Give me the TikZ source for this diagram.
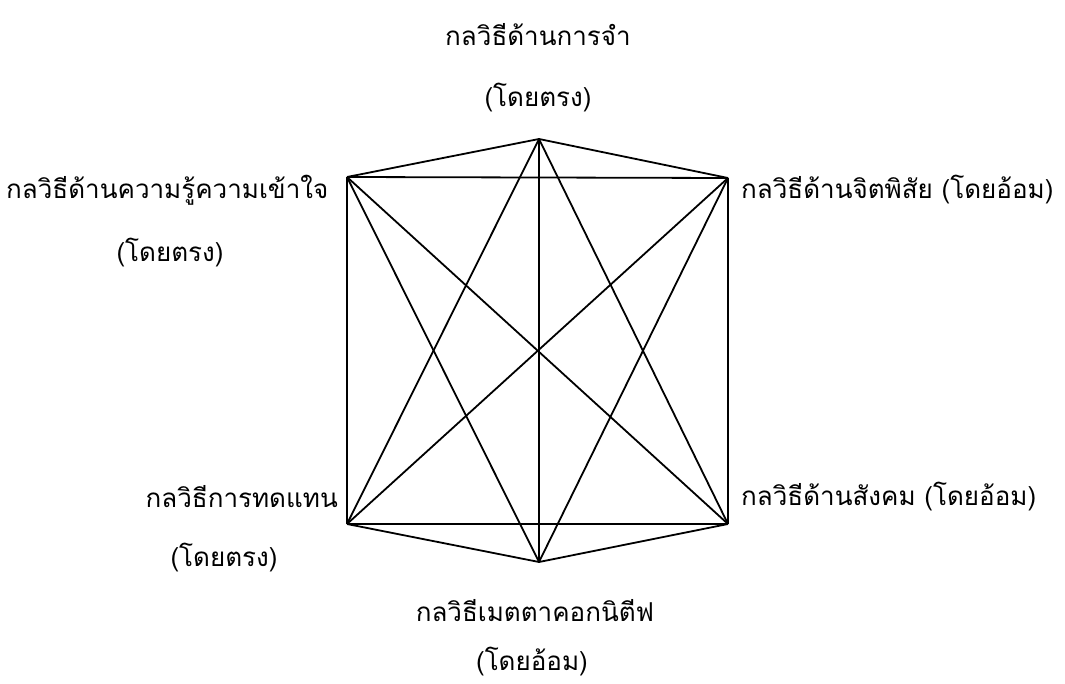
\documentclass[tikz,border=0pt]{standalone}
\usepackage{fontspec}
\newfontfamily\thaifont[Script=Thai]{Loma}
\usetikzlibrary{positioning}

\begin{document}
\begin{tikzpicture}[
  x=1pt, y=-1pt,
  lbl/.style={font=\thaifont\fontsize{26}{30}\selectfont, inner sep=0pt},
  edge/.style={line width=1.8pt, line join=miter}
]
\useasboundingbox (0,0) rectangle (1065,684);
% corners of the hexagon
\coordinate (mem) at (539,139);
\coordinate (cog) at (347,177);
\coordinate (aff) at (728,178);
\coordinate (com) at (347,524);
\coordinate (soc) at (728,524);
\coordinate (meta) at (539,562);
% labels
\node[lbl] (memA) at (538,35) {กลวิธีด้านการจำ};
\node[lbl] (memB) at (538,98) {(โดยตรง)};
\node[lbl, anchor=west] (cogA) at (6,190) {กลวิธีด้านความรู้ความเข้าใจ};
\node[lbl] (cogB) at (170,253) {(โดยตรง)};
\node[lbl, anchor=west] (affA) at (741,190) {กลวิธีด้านจิตพิสัย (โดยอ้อม)};
\node[lbl, anchor=east] (comA) at (338,497) {กลวิธีการทดแทน};
\node[lbl] (comB) at (224,558) {(โดยตรง)};
\node[lbl, anchor=west] (socA) at (741,497) {กลวิธีด้านสังคม (โดยอ้อม)};
\node[lbl] (metaA) at (535,611) {กลวิธีเมตตาคอกนิตีฟ};
\node[lbl] (metaB) at (532,662) {(โดยอ้อม)};
% every pair of corners
\draw[edge] (mem)--(cog);
\draw[edge] (mem)--(aff);
\draw[edge] (mem)--(com);
\draw[edge] (mem)--(soc);
\draw[edge] (mem)--(meta);
\draw[edge] (cog)--(aff);
\draw[edge] (cog)--(com);
\draw[edge] (cog)--(soc);
\draw[edge] (cog)--(meta);
\draw[edge] (aff)--(com);
\draw[edge] (aff)--(soc);
\draw[edge] (aff)--(meta);
\draw[edge] (com)--(soc);
\draw[edge] (com)--(meta);
\draw[edge] (soc)--(meta);
\end{tikzpicture}
\end{document}
